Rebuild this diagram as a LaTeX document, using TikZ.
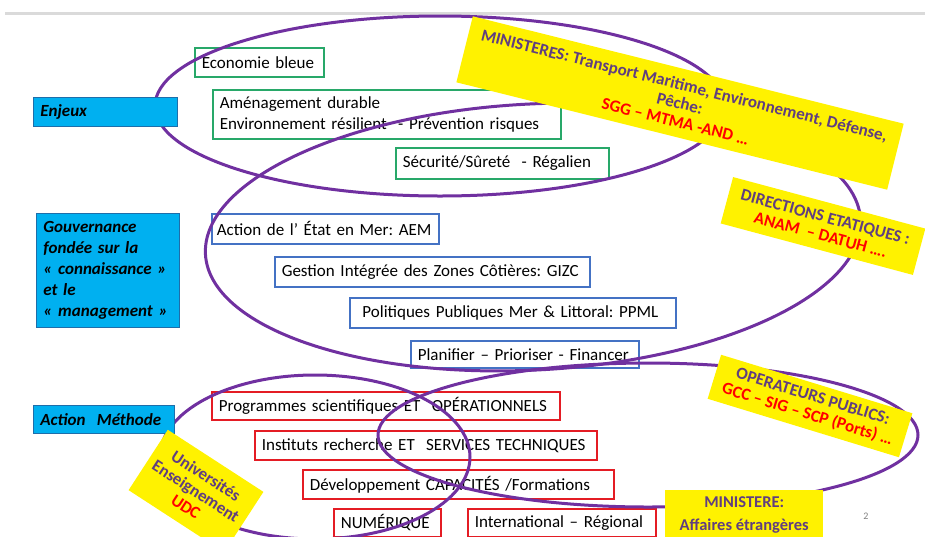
\documentclass[tikz,border=0pt]{standalone}
\usepackage{fontspec}
\setmainfont{Carlito}
\frenchspacing
\definecolor{ovalpurple}{RGB}{112,48,160}
\definecolor{boxgreen}{RGB}{40,168,105}
\definecolor{boxblue}{RGB}{68,114,196}
\definecolor{boxred}{RGB}{228,28,36}
\definecolor{labelfill}{RGB}{0,176,240}
\definecolor{labeldraw}{RGB}{30,110,170}
\definecolor{notepurple}{RGB}{96,62,128}
\definecolor{rulegray}{RGB}{218,218,218}
\tikzset{
  tbox/.style={draw, line width=1.6pt, fill=white, anchor=north west,
    inner xsep=7pt, inner ysep=0pt, align=left,
    font=\fontsize{17}{21}\selectfont},
  greenbox/.style={tbox, draw=boxgreen},
  bluebox/.style={tbox, draw=boxblue},
  redbox/.style={tbox, draw=boxred},
  labelbox/.style={draw=labeldraw, line width=0.8pt, fill=labelfill,
    anchor=north west, inner xsep=7pt, inner ysep=0pt, align=left,
    font=\fontsize{17}{21}\selectfont\bfseries\itshape},
  oval/.style={draw=ovalpurple, line width=3pt},
  yellownote/.style={fill=yellow, inner sep=0pt, align=center,
    text=notepurple, font=\fontsize{17}{18.5}\selectfont\bfseries},
}
\newcommand{\redline}[1]{\textcolor{red}{#1}}
\begin{document}
\begin{tikzpicture}[x=1pt,y=-1pt]
\useasboundingbox (0,0) rectangle (925,536);
\draw[line width=3pt, rulegray] (5,13) -- (925,13);

\node[greenbox, text width=115pt, minimum height=29pt] (eco) at (194,47) {Economie bleue};
\node[greenbox, text width=334pt, minimum height=49pt] (amen) at (212,89)
  {Aménagement durable\\Environnement résilient\ \ - Prévention risques};
\node[greenbox, text width=199pt, minimum height=31pt] (secu) at (395,147) {Sécurité/Sûreté\ \ - Régalien};

\node[bluebox, inner xsep=5pt, text width=217pt, minimum height=30pt] (aem) at (211,213) {Action de l’ État en Mer: AEM};
\node[bluebox, text width=301pt, minimum height=30pt] (gizc) at (274,256) {Gestion Intégrée des Zones Côtières: GIZC};
\node[bluebox, text width=312pt, minimum height=30pt] (ppml) at (349,297) {\ Politiques Publiques Mer \& Littoral: PPML};
\node[bluebox, text width=214pt, minimum height=27pt] (plan) at (410,340) {Planifier – Prioriser - Financer};

\node[redbox, text width=334pt, minimum height=28pt] (prog) at (211,391) {Programmes scientifiques ET\ \ OPÉRATIONNELS};
\node[redbox, text width=328pt, minimum height=29pt] (inst) at (254,430) {Instituts recherche ET\ \ SERVICES TECHNIQUES};
\node[redbox, text width=297pt, minimum height=29pt] (dev) at (302,469) {Développement CAPACITÉS /Formations};
\node[redbox, text width=93pt, minimum height=28pt] (num) at (333,508) {NUMÉRIQUE};
\node[redbox, text width=174pt, minimum height=28pt] (intl) at (467,508) {International – Régional};

\draw[oval] (440,106) ellipse[x radius=285, y radius=90];
\draw[oval, rotate around={3:(533,237)}] (533,237) ellipse[x radius=328, y radius=133];
\draw[oval] (315,457) ellipse[x radius=155, y radius=82];
\draw[oval] (648,435) ellipse[x radius=270, y radius=72];

\node[labelbox, text width=130pt, minimum height=29pt] (enjeux) at (33,97) {Enjeux};
\node[labelbox, text width=129pt, minimum height=114pt] (gouv) at (36,213)
  {Gouvernance\\fondée sur la\\« connaissance »\\et le\\« management »};
\node[labelbox, text width=127pt, minimum height=28pt] (actm) at (33,405) {Action\ \ Méthode};

\node[yellownote, rotate=-14, minimum width=444pt, minimum height=68pt] (mins) at (680,103)
  {MINISTERES: Transport Maritime, Environnement, Défense,\\Pêche:\\\redline{SGG – MTMA -AND …}};
\node[yellownote, rotate=-15, minimum width=199pt, minimum height=48pt] (dirs) at (823,226)
  {DIRECTIONS ETATIQUES :\\\redline{ANAM\ \ – DATUH ….}};
\node[yellownote, rotate=-17, minimum width=200pt, minimum height=46pt] (opers) at (810,406)
  {OPERATEURS PUBLICS:\\\redline{GCC – SIG – SCP (Ports) …}};
\node[yellownote, anchor=north west, minimum width=158pt, minimum height=50pt,
  font=\fontsize{16.5}{23}\selectfont\bfseries] (mae) at (665,490)
  {MINISTERE:\\Affaires étrangères};
\node[yellownote, rotate=-33, minimum width=114pt, minimum height=72pt] (univ) at (196,491)
  {Universités\\Enseignement\\\redline{UDC}};

\node[text=gray, font=\fontsize{10}{12}\selectfont] (page) at (866,516) {2};
\end{tikzpicture}
\end{document}
